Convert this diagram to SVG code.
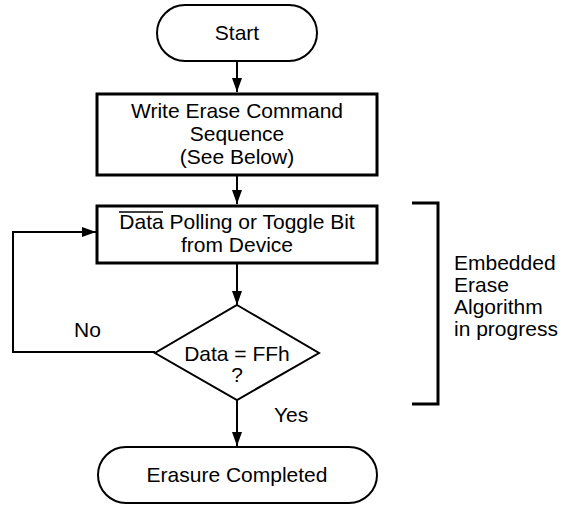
<svg xmlns="http://www.w3.org/2000/svg" width="564" height="505" viewBox="0 0 564 505">
<style>
text{font-family:"Liberation Sans",Arial,sans-serif;font-size:21px;fill:#000}
.c{text-anchor:middle}
.box{fill:#fff;stroke:#000;stroke-width:3}
.term{fill:#fff;stroke:#000;stroke-width:2}
.ln{fill:none;stroke:#000;stroke-width:2}
</style>
<defs>
<marker id="ahb" viewBox="0 0 14 10" refX="14" refY="5" markerWidth="14" markerHeight="10" markerUnits="userSpaceOnUse" orient="auto">
<path d="M0,0 L14,5 L0,10 z" fill="#000"/>
</marker>
</defs>
<g id="connectors">
<line class="ln" x1="237" y1="61" x2="237" y2="92" marker-end="url(#ahb)"/>
<line class="ln" x1="237" y1="175" x2="237" y2="204" marker-end="url(#ahb)"/>
<line class="ln" x1="237" y1="264" x2="237" y2="305" marker-end="url(#ahb)"/>
<line class="ln" x1="237" y1="400" x2="237" y2="446" marker-end="url(#ahb)"/>
<polyline class="ln" points="155,352 13,352 13,232 96,232" marker-end="url(#ahb)"/>
</g>
<g id="start">
<rect class="term" x="157" y="5" width="160" height="56" rx="28" ry="28"/>
<text class="c" x="237" y="40">Start</text>
</g>
<g id="write">
<rect class="box" x="97" y="94" width="280" height="81"/>
<text class="c" x="237" y="118">Write Erase Command</text>
<text class="c" x="237" y="141">Sequence</text>
<text class="c" x="237" y="164">(See Below)</text>
</g>
<g id="poll">
<rect class="box" x="97" y="206" width="280" height="57"/>
<text class="c" x="237" y="229">Data Polling or Toggle Bit</text>
<line x1="119" y1="212" x2="163" y2="212" stroke="#000" stroke-width="1.5"/>
<text class="c" x="237" y="252">from Device</text>
</g>
<g id="decision">
<polygon class="ln" points="237,305 319,353 237,400 155,353" style="fill:#fff"/>
<text class="c" x="237" y="361">Data = FFh</text>
<text class="c" x="237" y="382">?</text>
</g>
<g id="end">
<rect class="term" x="98" y="447" width="279" height="56" rx="28" ry="28"/>
<text class="c" x="237" y="482">Erasure Completed</text>
</g>
<g id="labels">
<text x="74" y="337">No</text>
<text x="274" y="422">Yes</text>
</g>
<g id="bracket">
<polyline points="412,203 438,203 438,404 412,404" style="fill:none;stroke:#000;stroke-width:3"/>
<text x="454" y="270">Embedded</text>
<text x="454" y="292">Erase</text>
<text x="454" y="314">Algorithm</text>
<text x="454" y="336">in progress</text>
</g>
</svg>
